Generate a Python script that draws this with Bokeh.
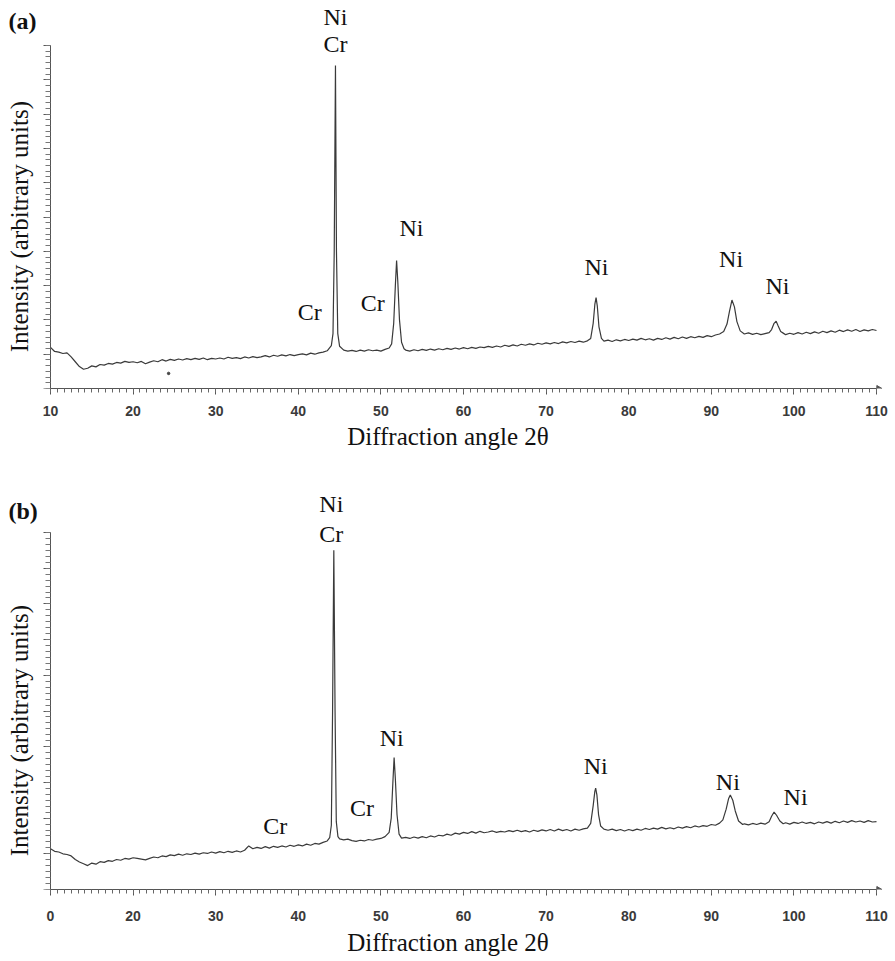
import math
from bokeh.plotting import figure
from bokeh.models import FixedTicker, Range1d
from bokeh.layouts import column
from bokeh.core.properties import value
from bokeh.embed import file_html
from bokeh.resources import INLINE

SERIF = "Liberation Serif"
SANS = "Liberation Sans"

# ---------------- data: panel (a) ----------------
a_angle = [
    10.0, 10.5, 11.0, 11.5, 12.0, 12.5, 13.0, 13.5, 14.0, 14.5,
    15.0, 15.5, 16.0, 16.5, 17.0, 17.5, 18.0, 18.5, 19.0, 19.5,
    20.0, 20.5, 21.0, 21.5, 22.0, 22.5, 23.0, 23.5, 24.0, 24.5,
    25.0, 25.5, 26.0, 26.5, 27.0, 27.5, 28.0, 28.5, 29.0, 29.5,
    30.0, 30.5, 31.0, 31.5, 32.0, 32.5, 33.0, 33.5, 34.0, 34.5,
    35.0, 35.5, 36.0, 36.5, 37.0, 37.5, 38.0, 38.5, 39.0, 39.5,
    40.0, 40.5, 41.0, 41.5, 42.0, 42.5, 43.0, 43.5, 44.0, 44.2,
    44.35, 44.5, 44.62, 44.78, 45.0, 45.5, 46.0, 46.5, 47.0, 47.5,
    48.0, 48.5, 49.0, 49.5, 50.0, 50.5, 51.0, 51.3, 51.55, 51.75,
    51.9, 52.05, 52.25, 52.5, 52.8, 53.0, 53.5, 54.0, 54.5, 55.0,
    55.5, 56.0, 56.5, 57.0, 57.5, 58.0, 58.5, 59.0, 59.5, 60.0,
    60.5, 61.0, 61.5, 62.0, 62.5, 63.0, 63.5, 64.0, 64.5, 65.0,
    65.5, 66.0, 66.5, 67.0, 67.5, 68.0, 68.5, 69.0, 69.5, 70.0,
    70.5, 71.0, 71.5, 72.0, 72.5, 73.0, 73.5, 74.0, 74.5, 75.0,
    75.4, 75.7, 75.9, 76.05, 76.2, 76.4, 76.7, 77.0, 77.5, 78.0,
    78.5, 79.0, 79.5, 80.0, 80.5, 81.0, 81.5, 82.0, 82.5, 83.0,
    83.5, 84.0, 84.5, 85.0, 85.5, 86.0, 86.5, 87.0, 87.5, 88.0,
    88.5, 89.0, 89.5, 90.0, 90.5, 91.0, 91.5, 91.9, 92.2, 92.5,
    92.8, 93.1, 93.5, 94.0, 94.5, 95.0, 95.5, 96.0, 96.5, 97.0,
    97.3, 97.6, 97.85, 98.1, 98.4, 98.8, 99.0, 99.5, 100.0, 100.5,
    101.0, 101.5, 102.0, 102.5, 103.0, 103.5, 104.0, 104.5, 105.0, 105.5,
    106.0, 106.5, 107.0, 107.5, 108.0, 108.5, 109.0, 109.5, 110.0,
]
a_intensity = [
    12.0, 10.8, 10.6, 10.2, 10.4, 9.2, 7.8, 6.4, 5.6, 5.9,
    6.6, 6.3, 7.0, 6.8, 7.3, 7.1, 7.6, 7.4, 7.9, 7.6,
    7.8, 7.5, 7.9, 7.2, 7.7, 8.1, 7.8, 8.4, 8.0, 8.5,
    8.2, 8.6, 8.3, 8.7, 8.4, 8.8, 8.5, 8.9, 8.4, 8.8,
    8.6, 8.9, 8.6, 9.1, 8.8, 9.0, 8.7, 9.2, 8.9, 9.3,
    9.0, 9.2, 9.6, 9.2, 9.7, 9.4, 9.8, 9.5, 9.9, 9.6,
    9.9, 10.1, 9.8, 10.3, 10.0, 10.4, 10.6, 11.0, 12.5, 16.0,
    40.0, 94.2, 40.0, 16.0, 12.3, 11.2, 10.9, 11.1, 10.8, 11.2,
    10.9, 11.3, 11.0, 11.2, 10.9, 11.4, 11.8, 13.0, 19.0, 30.0,
    37.3, 31.0, 20.0, 13.5, 11.6, 11.2, 10.9, 11.3, 11.0, 11.4,
    11.1, 11.5, 11.2, 11.6, 11.3, 11.7, 11.4, 11.8, 11.5, 11.9,
    11.6, 12.0, 11.7, 12.1, 11.9, 12.3, 12.0, 12.4, 12.1, 12.6,
    12.3, 12.7, 12.4, 12.9, 12.6, 13.0, 12.7, 13.2, 12.9, 13.3,
    13.0, 13.4, 13.1, 13.6, 13.3, 13.7, 13.4, 13.8, 13.5, 13.9,
    14.6, 19.0, 24.5, 26.5, 24.0, 18.0, 14.6, 13.8, 14.1, 13.7,
    14.2, 13.9, 14.3, 14.0, 14.4, 14.1, 14.6, 14.2, 14.5, 14.1,
    14.6, 14.3, 14.8, 14.4, 14.9, 14.5, 15.0, 14.6, 15.1, 14.8,
    15.2, 14.9, 15.4, 15.1, 15.6, 15.9, 16.6, 18.8, 22.5, 25.8,
    23.8, 19.5, 16.8, 15.9, 16.2, 15.8, 16.1, 15.7, 16.0, 16.3,
    17.2, 19.0, 19.6, 18.2, 16.6, 16.0, 15.7, 16.1, 15.8, 16.3,
    15.9, 16.4, 16.0, 16.5, 16.1, 16.7, 16.3, 16.8, 16.4, 17.0,
    16.6, 17.1, 16.7, 17.2, 16.6, 17.1, 16.8, 17.2, 16.9,
]
a_speck_angle = [24.3]
a_speck_intensity = [4.4]

a_labels = ["Ni", "Cr", "Cr", "Cr", "Ni", "Ni", "Ni", "Ni"]
a_label_angle = [44.5, 44.5, 41.4, 49.0, 53.7, 76.1, 92.4, 98.0]
a_label_intensity = [108.2, 100.3, 22.4, 24.8, 46.9, 35.3, 37.9, 30.0]

# ---------------- data: panel (b) ----------------
b_angle = [
    10.0, 10.5, 11.0, 11.5, 12.0, 12.5, 13.0, 13.5, 14.0, 14.5,
    15.0, 15.5, 16.0, 16.5, 17.0, 17.5, 18.0, 18.5, 19.0, 19.5,
    20.0, 20.5, 21.0, 21.5, 22.0, 22.5, 23.0, 23.5, 24.0, 24.5,
    25.0, 25.5, 26.0, 26.5, 27.0, 27.5, 28.0, 28.5, 29.0, 29.5,
    30.0, 30.5, 31.0, 31.5, 32.0, 32.5, 33.0, 33.5, 34.0, 34.5,
    35.0, 35.5, 36.0, 36.5, 37.0, 37.5, 38.0, 38.5, 39.0, 39.5,
    40.0, 40.5, 41.0, 41.5, 42.0, 42.5, 43.0, 43.5, 43.8, 44.0,
    44.15, 44.3, 44.45, 44.6, 44.8, 45.0, 45.5, 46.0, 46.5, 47.0,
    47.5, 48.0, 48.5, 49.0, 49.5, 50.0, 50.5, 51.0, 51.25, 51.45,
    51.6, 51.75, 51.95, 52.2, 52.5, 53.0, 53.5, 54.0, 54.5, 55.0,
    55.5, 56.0, 56.5, 57.0, 57.5, 58.0, 58.5, 59.0, 59.5, 60.0,
    60.5, 61.0, 61.5, 62.0, 62.5, 63.0, 63.5, 64.0, 64.5, 65.0,
    65.5, 66.0, 66.5, 67.0, 67.5, 68.0, 68.5, 69.0, 69.5, 70.0,
    70.5, 71.0, 71.5, 72.0, 72.5, 73.0, 73.5, 74.0, 74.5, 75.0,
    75.4, 75.7, 75.9, 76.0, 76.15, 76.35, 76.6, 77.0, 77.5, 78.0,
    78.5, 79.0, 79.5, 80.0, 80.5, 81.0, 81.5, 82.0, 82.5, 83.0,
    83.5, 84.0, 84.5, 85.0, 85.5, 86.0, 86.5, 87.0, 87.5, 88.0,
    88.5, 89.0, 89.5, 90.0, 90.5, 91.0, 91.4, 91.8, 92.1, 92.3,
    92.6, 92.9, 93.3, 93.8, 94.0, 94.5, 95.0, 95.5, 96.0, 96.5,
    97.0, 97.3, 97.6, 97.9, 98.3, 98.7, 99.0, 99.5, 100.0, 100.5,
    101.0, 101.5, 102.0, 102.5, 103.0, 103.5, 104.0, 104.5, 105.0, 105.5,
    106.0, 106.5, 107.0, 107.5, 108.0, 108.5, 109.0, 109.5, 110.0,
]
b_intensity = [
    11.4, 10.7, 10.5, 10.0, 9.8, 9.4, 8.4, 7.7, 7.2, 6.7,
    7.4, 7.1, 7.8, 7.6, 8.1, 7.9, 8.4, 8.2, 8.7, 8.5,
    8.9, 8.7, 8.5, 8.3, 8.7, 9.1, 8.9, 9.4, 9.2, 9.7,
    9.5, 9.9, 9.6, 10.0, 9.8, 10.2, 9.9, 10.3, 10.1, 10.5,
    10.2, 10.6, 10.3, 10.7, 10.4, 10.8, 10.5, 11.0, 12.2, 11.4,
    11.8, 11.5, 12.0, 11.6, 12.1, 11.8, 12.2, 11.9, 12.4, 12.1,
    12.5, 12.2, 12.7, 12.4, 12.9, 12.7, 13.2, 13.6, 14.5, 18.0,
    50.0, 95.0, 50.0, 19.0, 14.8, 14.2, 13.9, 14.1, 13.7, 13.5,
    13.8, 13.6, 14.0, 13.8, 14.1, 14.3, 14.8, 16.0, 20.0, 30.0,
    37.0, 31.0, 21.0, 15.5, 14.4, 14.6, 14.3, 14.7, 14.4, 14.8,
    14.5, 15.0, 14.7, 15.2, 15.0, 15.5, 15.2, 15.8, 15.5, 16.0,
    15.7, 16.2, 15.8, 16.3, 15.9, 16.1, 16.4, 16.0, 16.3, 16.1,
    16.5, 16.2, 16.6, 16.2, 16.5, 16.1, 16.6, 16.3, 16.7, 16.4,
    16.8, 16.4, 16.9, 16.5, 16.8, 16.4, 16.9, 16.6, 17.0, 17.2,
    18.5, 23.5, 27.5, 28.4, 26.5, 21.0, 17.8, 16.9, 16.6, 16.9,
    16.5, 16.8, 16.4, 16.8, 16.5, 16.9, 16.6, 17.1, 16.8, 17.2,
    16.9, 17.4, 17.0, 17.3, 17.0, 17.5, 17.2, 17.6, 17.3, 17.8,
    17.5, 17.9, 17.7, 18.2, 18.0, 18.6, 19.5, 22.5, 25.5, 26.5,
    25.0, 22.0, 19.2, 18.2, 18.4, 18.1, 18.5, 18.2, 18.6, 18.3,
    19.0, 20.5, 21.7, 20.8, 19.2, 18.4, 18.7, 18.3, 18.8, 18.5,
    18.9, 18.5, 18.8, 18.4, 18.9, 18.6, 19.0, 18.6, 19.1, 18.7,
    19.2, 18.8, 19.3, 18.9, 19.2, 18.8, 19.3, 18.9, 19.0,
]

b_labels = ["Ni", "Cr", "Cr", "Cr", "Ni", "Ni", "Ni", "Ni"]
b_label_angle = [44.0, 44.0, 37.2, 47.7, 51.3, 76.0, 92.0, 100.2]
b_label_intensity = [108.1, 99.7, 17.9, 22.7, 42.3, 34.5, 30.0, 26.0]

x_major = [10, 20, 30, 40, 50, 60, 70, 80, 90, 100, 110]
a_tick_text = {10: "10"}
b_tick_text = {10: "0"}   # the original panel (b) prints "0" at the first tick

assert len(a_angle) == len(a_intensity)
assert len(b_angle) == len(b_intensity)

PX_PER_DEG = 8.26     # horizontal scale (10 -> x=50px, 110 -> x=876px)
X_START = 10 - 50 / PX_PER_DEG
X_END = 110 + 19 / PX_PER_DEG


def make_panel(angle, inten, labels, lab_x, lab_y, tag, tag_x, tag_y,
               overrides, height, bottom_border, y_end, ylab_y,
               label_standoff, title_standoff):
    p = figure(width=895, height=height, output_backend="svg",
               toolbar_location=None,
               x_range=Range1d(X_START, X_END), y_range=Range1d(0, y_end),
               min_border_left=0, min_border_right=0,
               min_border_top=0, min_border_bottom=bottom_border)
    p.outline_line_color = None
    p.grid.visible = False

    p.line(angle, inten, line_color="#3a3a3a", line_width=1.2)

    p.text(x=lab_x, y=lab_y, text=labels, text_font=value(SERIF),
           text_font_size="24px", text_color="#111111",
           text_align="center", text_baseline="middle")

    # panel tag and y-axis title drawn as text inside the (widened) frame
    p.text(x=[tag_x], y=[tag_y], text=[tag], text_font=value(SERIF),
           text_font_size="24px", text_font_style="bold",
           text_color="#111111", text_align="left", text_baseline="top")
    p.text(x=[10 - 31 / PX_PER_DEG], y=[ylab_y],
           text=["Intensity (arbitrary units)"], angle=math.pi / 2,
           text_font=value(SERIF), text_font_size="25px",
           text_color="#111111", text_align="center",
           text_baseline="middle")

    # small arrow at the end of the x axis
    p.scatter([110.25], [0.0], marker="triangle", angle=-math.pi / 2,
              size=6, color="#555555")

    # x axis
    xa = p.xaxis[0]
    xa.bounds = (10, 110)
    xa.ticker = FixedTicker(ticks=x_major,
                            minor_ticks=[10 + i * 10 / 12 for i in range(121)])
    xa.major_label_overrides = overrides
    xa.major_label_text_font = SANS
    xa.major_label_text_font_size = "14px"
    xa.major_label_text_font_style = "bold"
    xa.major_label_text_color = "#3a3a3a"
    xa.major_label_standoff = label_standoff
    xa.major_tick_out = 6
    xa.major_tick_in = 0
    xa.minor_tick_out = 4
    xa.minor_tick_in = 0
    xa.axis_line_color = "#555555"
    xa.major_tick_line_color = "#555555"
    xa.minor_tick_line_color = "#666666"
    xa.axis_label = "Diffraction angle 2θ"
    xa.axis_label_text_font = SERIF
    xa.axis_label_text_font_style = "normal"
    xa.axis_label_text_font_size = "25px"
    xa.axis_label_text_color = "#111111"
    xa.axis_label_standoff = title_standoff

    # y axis (no numbers, dense ticks), drawn at 2theta = 10
    ya = p.yaxis[0]
    y_major = list(range(0, 101, 10))
    ya.fixed_location = 10
    ya.ticker = FixedTicker(ticks=y_major,
                            minor_ticks=[i * 100 / 60 for i in range(61)])
    ya.bounds = (0, 100)
    ya.major_label_overrides = {t: "" for t in y_major}
    ya.major_label_standoff = 0
    ya.major_tick_out = 7
    ya.major_tick_in = 0
    ya.minor_tick_out = 5
    ya.minor_tick_in = 0
    ya.axis_line_color = "#555555"
    ya.major_tick_line_color = "#555555"
    ya.minor_tick_line_color = "#777777"
    return p


# panel (a): frame 0..388 px (intensity 0 at 388 px, 3.43 px per unit)
pa = make_panel(a_angle, a_intensity, a_labels, a_label_angle,
                a_label_intensity, "(a)", 10 - 42 / PX_PER_DEG, 110.8,
                a_tick_text, height=470, bottom_border=82,
                y_end=388 / 3.43, ylab_y=47.2,
                label_standoff=11, title_standoff=4)
pa.scatter(a_speck_angle, a_speck_intensity, size=2.5, color="#444444")

# panel (b): frame 470..889 px (intensity 0 at 889 px, 3.57 px per unit)
pb = make_panel(b_angle, b_intensity, b_labels, b_label_angle,
                b_label_intensity, "(b)", 10 - 42 / PX_PER_DEG, 109.8,
                b_tick_text, height=490, bottom_border=71,
                y_end=419 / 3.57, ylab_y=44.5,
                label_standoff=15, title_standoff=5)

layout = column(pa, pb, spacing=0)
open("out.html", "w").write(file_html(layout, INLINE))
